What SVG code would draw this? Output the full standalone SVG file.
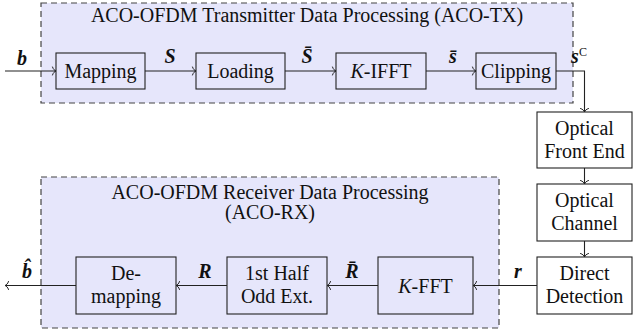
<svg xmlns="http://www.w3.org/2000/svg" width="633" height="336" viewBox="0 0 633 336">
  <defs>
    <marker id="to" viewBox="-5 -5 6 10" markerWidth="6" markerHeight="10" refX="0" refY="0" orient="auto" markerUnits="userSpaceOnUse">
      <path d="M -3.5,-4 C -2.8,-1.6 -1.2,-0.4 0,0 C -1.2,0.4 -2.8,1.6 -3.5,4" fill="none" stroke="#222" stroke-width="1" stroke-linecap="round"/>
    </marker>
    <style>
      .group { fill: #e6e6fb; stroke: #444; stroke-width: 1.2; stroke-dasharray: 6 4; }
      .blk { fill: none; stroke: #222; stroke-width: 1.1; }
      .wblk { fill: #ffffff; stroke: #222; stroke-width: 1.1; }
      .lbl { font-family: "Liberation Serif", "Times New Roman", serif; font-size: 20px; fill: #111; text-anchor: middle; }
      .math { font-family: "Liberation Serif", "Times New Roman", serif; font-size: 20px; font-style: italic; font-weight: bold; fill: #111; text-anchor: middle; }
      .wire { fill: none; stroke: #222; stroke-width: 1.1; }
      .arr { marker-end: url(#to); }
    </style>
  </defs>

  <!-- processing regions -->
  <g id="aco-tx">
    <rect class="group" x="41" y="3" width="532" height="100"/>
    <text class="lbl" x="307" y="22">ACO-OFDM Transmitter Data Processing (ACO-TX)</text>
  </g>
  <g id="aco-rx">
    <rect class="group" x="41" y="177" width="458" height="151"/>
    <text class="lbl" x="270" y="199">ACO-OFDM Receiver Data Processing</text>
    <text class="lbl" x="270" y="219">(ACO-RX)</text>
  </g>

  <!-- transmitter blocks -->
  <g id="mapping">
    <rect class="blk" x="56" y="53" width="89" height="36"/>
    <text class="lbl" x="100.5" y="78">Mapping</text>
  </g>
  <g id="loading">
    <rect class="blk" x="196" y="53" width="89" height="36"/>
    <text class="lbl" x="240.5" y="78">Loading</text>
  </g>
  <g id="k-ifft">
    <rect class="blk" x="336" y="53" width="90" height="36"/>
    <text class="lbl" x="381" y="78"><tspan font-style="italic">K</tspan>-IFFT</text>
  </g>
  <g id="clipping">
    <rect class="blk" x="476" y="53" width="80" height="36"/>
    <text class="lbl" x="516" y="78">Clipping</text>
  </g>

  <!-- optical path -->
  <g id="front-end">
    <rect class="wblk" x="537" y="112" width="95" height="56"/>
    <text class="lbl" x="584.5" y="134.5">Optical</text>
    <text class="lbl" x="584.5" y="157.5">Front End</text>
  </g>
  <g id="channel">
    <rect class="wblk" x="537" y="184" width="95" height="57"/>
    <text class="lbl" x="584.5" y="207">Optical</text>
    <text class="lbl" x="584.5" y="230">Channel</text>
  </g>
  <g id="detection">
    <rect class="wblk" x="537" y="257" width="95" height="57"/>
    <text class="lbl" x="584.5" y="280">Direct</text>
    <text class="lbl" x="584.5" y="303">Detection</text>
  </g>

  <!-- receiver blocks -->
  <g id="k-fft">
    <rect class="blk" x="378" y="257" width="95" height="57"/>
    <text class="lbl" x="425.5" y="292.5"><tspan font-style="italic">K</tspan>-FFT</text>
  </g>
  <g id="odd-ext">
    <rect class="blk" x="227" y="257" width="100" height="57"/>
    <text class="lbl" x="277" y="280">1st Half</text>
    <text class="lbl" x="277" y="303">Odd Ext.</text>
  </g>
  <g id="demapping">
    <rect class="blk" x="76" y="257" width="100" height="57"/>
    <text class="lbl" x="126" y="280">De-</text>
    <text class="lbl" x="126" y="303">mapping</text>
  </g>

  <!-- signal flow -->
  <g id="connectors">
    <path class="wire arr" d="M 5,71 H 56"/>
    <path class="wire arr" d="M 145,71 H 196"/>
    <path class="wire arr" d="M 285,71 H 336"/>
    <path class="wire arr" d="M 426,71 H 476"/>
    <path class="wire arr" d="M 556,71 H 584.5 V 112"/>
    <path class="wire arr" d="M 584.5,168 V 184"/>
    <path class="wire arr" d="M 584.5,241 V 257"/>
    <path class="wire arr" d="M 537,285.5 H 473"/>
    <path class="wire arr" d="M 378,285.5 H 327"/>
    <path class="wire arr" d="M 227,285.5 H 176"/>
    <path class="wire arr" d="M 76,285.5 H 5"/>

    <text class="math" x="22" y="65">b</text>
    <text class="math" x="170" y="63">S</text>
    <text class="math" x="307" y="63">S&#x0304;</text>
    <text class="math" x="453" y="63">s&#x0304;</text>
    <text class="math" x="579" y="63" text-anchor="start">s<tspan font-style="normal" font-weight="normal" font-size="12" dy="-7">C</tspan></text>
    <text class="math" x="518" y="278">r</text>
    <text class="math" x="352" y="278">R&#x0304;</text>
    <text class="math" x="205" y="278">R</text>
    <text class="math" x="27" y="278">b&#x0302;</text>
  </g>
</svg>
